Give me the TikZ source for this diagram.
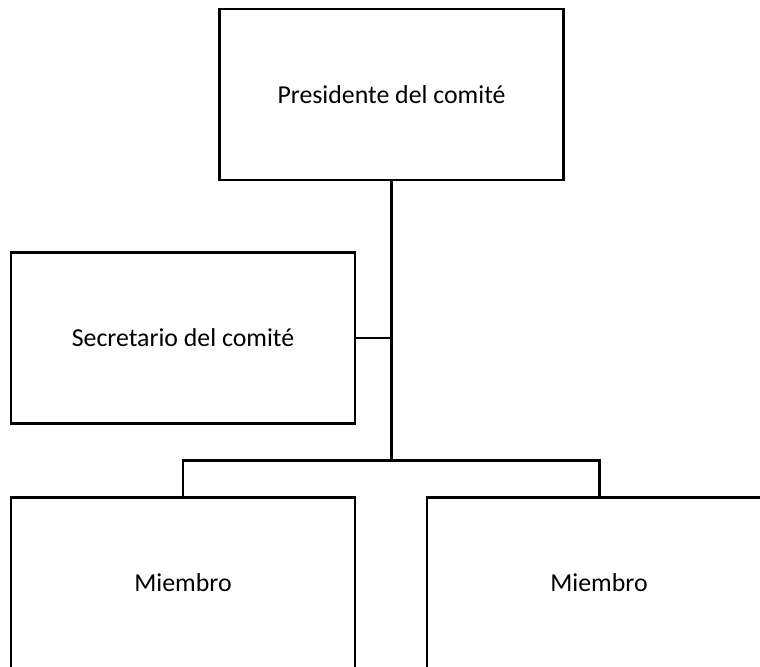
\documentclass[tikz,border=0pt]{standalone}
\usepackage{fontspec}
\setmainfont{Carlito}
\usetikzlibrary{positioning}

\begin{document}
\begin{tikzpicture}[x=0.02cm, y=-0.02cm, font=\fontsize{14.7}{17}\selectfont,
	box/.style={draw, line width=1.3pt, minimum width=6.88cm, minimum height=3.42cm, inner sep=0pt},
	link/.style={line width=1.7pt}]
	\useasboundingbox (0, 0) rectangle (760, 666);
	\clip (0, 0) rectangle (760, 666);
	\node[box] (pres) at (391.5, 94.5) {Presidente del comité};
	\node[box] (secr) at (183, 338) {Secretario del comité};
	\node[box] (memA) at (183, 583) {Miembro};
	\node[box] (memB) at (599, 583) {Miembro};
	\coordinate (split) at (391.5, 460);

	\draw[link] (pres.south) -- (split);
	\draw[link] (secr.east) -- (secr.east -| pres.south);
	\draw[link] (memA.north) |- (split) -| (memB.north);
\end{tikzpicture}
\end{document}
